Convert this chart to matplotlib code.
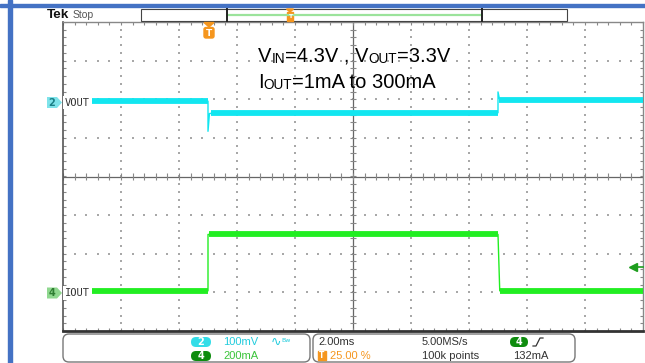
import numpy as np
import matplotlib
matplotlib.use('Agg')
import matplotlib.pyplot as plt
from matplotlib.patches import FancyBboxPatch, Rectangle, Polygon
from matplotlib.collections import LineCollection

# scope settings
ms_per_div = 2.0
vout_mv_per_div = 100.0
iout_ma_per_div = 200.0
vout_pos_div = 1.95
iout_pos_div = -3.0
trig_level_ma = 132

# CH2 VOUT (mV, relative to marker) -- thin line incl. spikes
vout_t = [-5.0, 0.0, 0.0, 0.05, 0.3, 10.0, 10.0, 10.05, 10.3, 15.0]
vout_mv = [0, 0, -78, -32, -30, -30, 24, 6, 4, 4]
# noisy band levels
vout_seg_start = [-5.0, 0.1, 10.05]
vout_seg_end = [0.0, 10.0, 15.0]
vout_seg_mv = [0, -30, 4]

# CH4 IOUT (mA)
iout_t = [-5.0, 0.0, 0.0, 10.0, 10.06, 15.0]
iout_ma = [8, 8, 300, 300, 8, 8]
iout_seg_start = [-5.0, 0.02, 10.06]
iout_seg_end = [0.0, 10.0, 15.0]
iout_seg_ma = [8, 300, 8]

cyan = '#12E6F0'
green = '#22EE22'
orange = '#F5961E'

fig = plt.figure(figsize=(6.45, 3.63), dpi=100)
fig.patch.set_facecolor('white')

ax = fig.add_axes([63 / 645, 32 / 363, 580 / 645, 309 / 363], zorder=1)
ax.set_xlim(-5, 15)
ax.set_ylim(-4, 4)
ax.set_xticks([])
ax.set_yticks([])
ax.spines['left'].set(color='#555555', lw=1.2)
ax.spines['bottom'].set(color='#333333', lw=2)
ax.spines['top'].set(color='#888888', lw=1)
ax.spines['right'].set(color='#888888', lw=1)

# dotted graticule
minor_x = np.arange(-5, 15.01, 0.4)
minor_y = np.arange(-4, 4.01, 0.2)
for gx in [-3, -1, 1, 3, 7, 9, 11, 13]:
    ax.scatter(np.full_like(minor_y, gx), minor_y, s=1.0, marker='s', color='#a8a8a8', lw=0)
for gy in [-3, -2, -1, 1, 2, 3]:
    ax.scatter(minor_x, np.full_like(minor_x, gy), s=1.0, marker='s', color='#a8a8a8', lw=0)
ax.axhline(0, color='#666666', lw=0.9)
ax.axvline(5, color='#666666', lw=0.9)

dy = 3 / 38.6
dx = 3 / 29.0
segs = []
for x in minor_x:
    segs += [[(x, 4), (x, 4 - dy)], [(x, -4), (x, -4 + dy)], [(x, -dy), (x, dy)]]
for y in minor_y:
    segs += [[(-5, y), (-5 + dx, y)], [(15, y), (15 - dx, y)], [(5 - dx, y), (5 + dx, y)]]
ax.add_collection(LineCollection(segs, colors='#888888', lw=0.8))

# traces
vy = vout_pos_div + np.array(vout_mv) / vout_mv_per_div
ax.plot(vout_t, vy, color=cyan, lw=1.0, zorder=3)
for s, e, m in zip(vout_seg_start, vout_seg_end, vout_seg_mv):
    y = vout_pos_div + m / vout_mv_per_div
    ax.plot([s, e], [y, y], color=cyan, lw=4.2, solid_capstyle='butt', zorder=3)

iy = iout_pos_div + np.array(iout_ma) / iout_ma_per_div
ax.plot(iout_t, iy, color=green, lw=1.0, zorder=3)
for s, e, m in zip(iout_seg_start, iout_seg_end, iout_seg_ma):
    y = iout_pos_div + m / iout_ma_per_div
    ax.plot([s, e], [y, y], color=green, lw=4.2, solid_capstyle='butt', zorder=3)

# trigger level arrow
ty = iout_pos_div + trig_level_ma / iout_ma_per_div
ax.plot([14.65, 15], [ty, ty], color='#1E9E1E', lw=1.2, clip_on=False, zorder=4)
ax.plot(14.65, ty, marker='<', ms=6, color='#1E9E1E', clip_on=False, zorder=4)

# overlay in pixel coordinates
ov = fig.add_axes([0, 0, 1, 1], zorder=2)
ov.set_xlim(0, 645)
ov.set_ylim(363, 0)
ov.axis('off')
ov.patch.set_alpha(0)

ov.add_patch(Rectangle((0, 3.5), 645, 3.5, color='#4472C4'))
ov.add_patch(Rectangle((8, 0), 4, 363, color='#4472C4'))

ov.text(47, 15.5, 'Tek', fontsize=9.7, fontweight='bold', family='Liberation Sans', va='center', color='#111111')
ov.text(73, 15.5, 'Stop', fontsize=7.5, family='Liberation Sans', va='center', color='#555555')

# record bar
ov.add_patch(Rectangle((141, 9), 426, 12, fill=False, ec='#444444', lw=0.8))
ov.plot([228, 481], [14.8, 14.8], color='#9BE39B', lw=1.6)
ov.plot([227, 227], [9, 21], color='#222222', lw=1.4)
ov.plot([482, 482], [9, 21], color='#222222', lw=1.4)
ov.add_patch(Polygon([(286.5, 9), (293.5, 9), (290, 12)], color=orange))
ov.add_patch(Rectangle((287, 12), 6, 9, color=orange))
ov.text(290, 16.5, 'T', fontsize=4.5, color='white', ha='center', va='center', fontweight='bold')

# trigger position marker
ov.add_patch(Polygon([(204, 22.5), (214, 22.5), (209, 27)], color=orange))
ov.add_patch(FancyBboxPatch((204, 27.5), 10, 10.5, boxstyle='round,pad=0,rounding_size=2', color=orange))
ov.text(209, 33, 'T', fontsize=6.5, color='white', ha='center', va='center', fontweight='bold')

# annotation text with small-caps subscripts
r = fig.canvas.get_renderer()


def runs(x, y, parts):
    for s, size, drop in parts:
        t = ov.text(x, y + drop, s, fontsize=size, family='Liberation Sans', va='baseline', ha='left', color='black')
        x += t.get_window_extent(renderer=r).width


runs(258, 62, [('V', 14.5, 0), ('IN', 9.8, 1), ('=4.3V , V', 14.5, 0), ('OUT', 9.8, 1), ('=3.3V', 14.5, 0)])
runs(258, 88, [('I', 14.5, 0), ('OUT', 9.8, 1), ('=1mA to 300mA', 14.5, 0)])

# channel markers


def ch_marker(yc, fc, tc, num, label):
    ov.add_patch(Polygon([(47, yc - 5.5), (57, yc - 5.5), (62, yc), (57, yc + 5.5), (47, yc + 5.5)],
                         fc=fc, ec='none'))
    ov.text(52, yc + 0.3, num, fontsize=7, color=tc, ha='center', va='center', fontweight='bold')
    ov.text(65, yc, label, fontsize=7.5, family='DejaVu Sans Mono', color='#333333', va='center',
            bbox=dict(fc='white', ec='none', pad=1.2))


ch_marker(102.5, '#7EE3EA', '#1A7F86', '2', 'VOUT')
ch_marker(293, '#8FD88F', '#2E7D32', '4', 'IOUT')

# bottom readout boxes
ov.add_patch(FancyBboxPatch((63, 334), 247, 28, boxstyle='round,pad=0,rounding_size=6',
                            fc='white', ec='#777777', lw=1))
ov.add_patch(FancyBboxPatch((313, 334), 262, 28, boxstyle='round,pad=0,rounding_size=6',
                            fc='white', ec='#777777', lw=1))


def pill(x, y, w, fc, num):
    ov.add_patch(FancyBboxPatch((x, y - 5), w, 10, boxstyle='round,pad=0,rounding_size=5', fc=fc, ec='none'))
    ov.text(x + w / 2, y + 0.3, num, fontsize=7, color='white', ha='center', va='center', fontweight='bold')


tf = dict(family='Liberation Sans', fontsize=8, va='center')
pill(191, 342, 20, '#33DDE8', '2')
ov.text(223, 342, '100mV', color='#22CCDD', **tf)
ov.text(271, 342, '\u223f', color='#22CCDD', fontsize=9, va='center', family='DejaVu Sans')
ov.text(281, 340, 'Bw', color='#22CCDD', fontsize=4.5, va='center', family='DejaVu Sans')
pill(191, 356, 20, '#0E8C0E', '4')
ov.text(223, 356, '200mA', color='#3BC43B', **tf)

ov.text(318, 342, '2.00ms', color='#333333', **tf)
ov.add_patch(Rectangle((318, 351), 8, 9, color=orange))
ov.text(322, 355.8, 'T', fontsize=5.5, color='white', ha='center', va='center', fontweight='bold')
ov.text(330, 356, '25.00 %', color=orange, **tf)
ov.text(422, 342, '5.00MS/s', color='#333333', **tf)
ov.text(422, 356, '100k points', color='#333333', **tf)
pill(510, 342, 18, '#0E8C0E', '4')
ov.plot([533, 536, 540, 543], [346, 346, 338, 338], color='#333333', lw=0.9)
ov.text(513, 356, '132mA', color='#333333', **tf)

fig.savefig('out.png', dpi=100, facecolor='white')
